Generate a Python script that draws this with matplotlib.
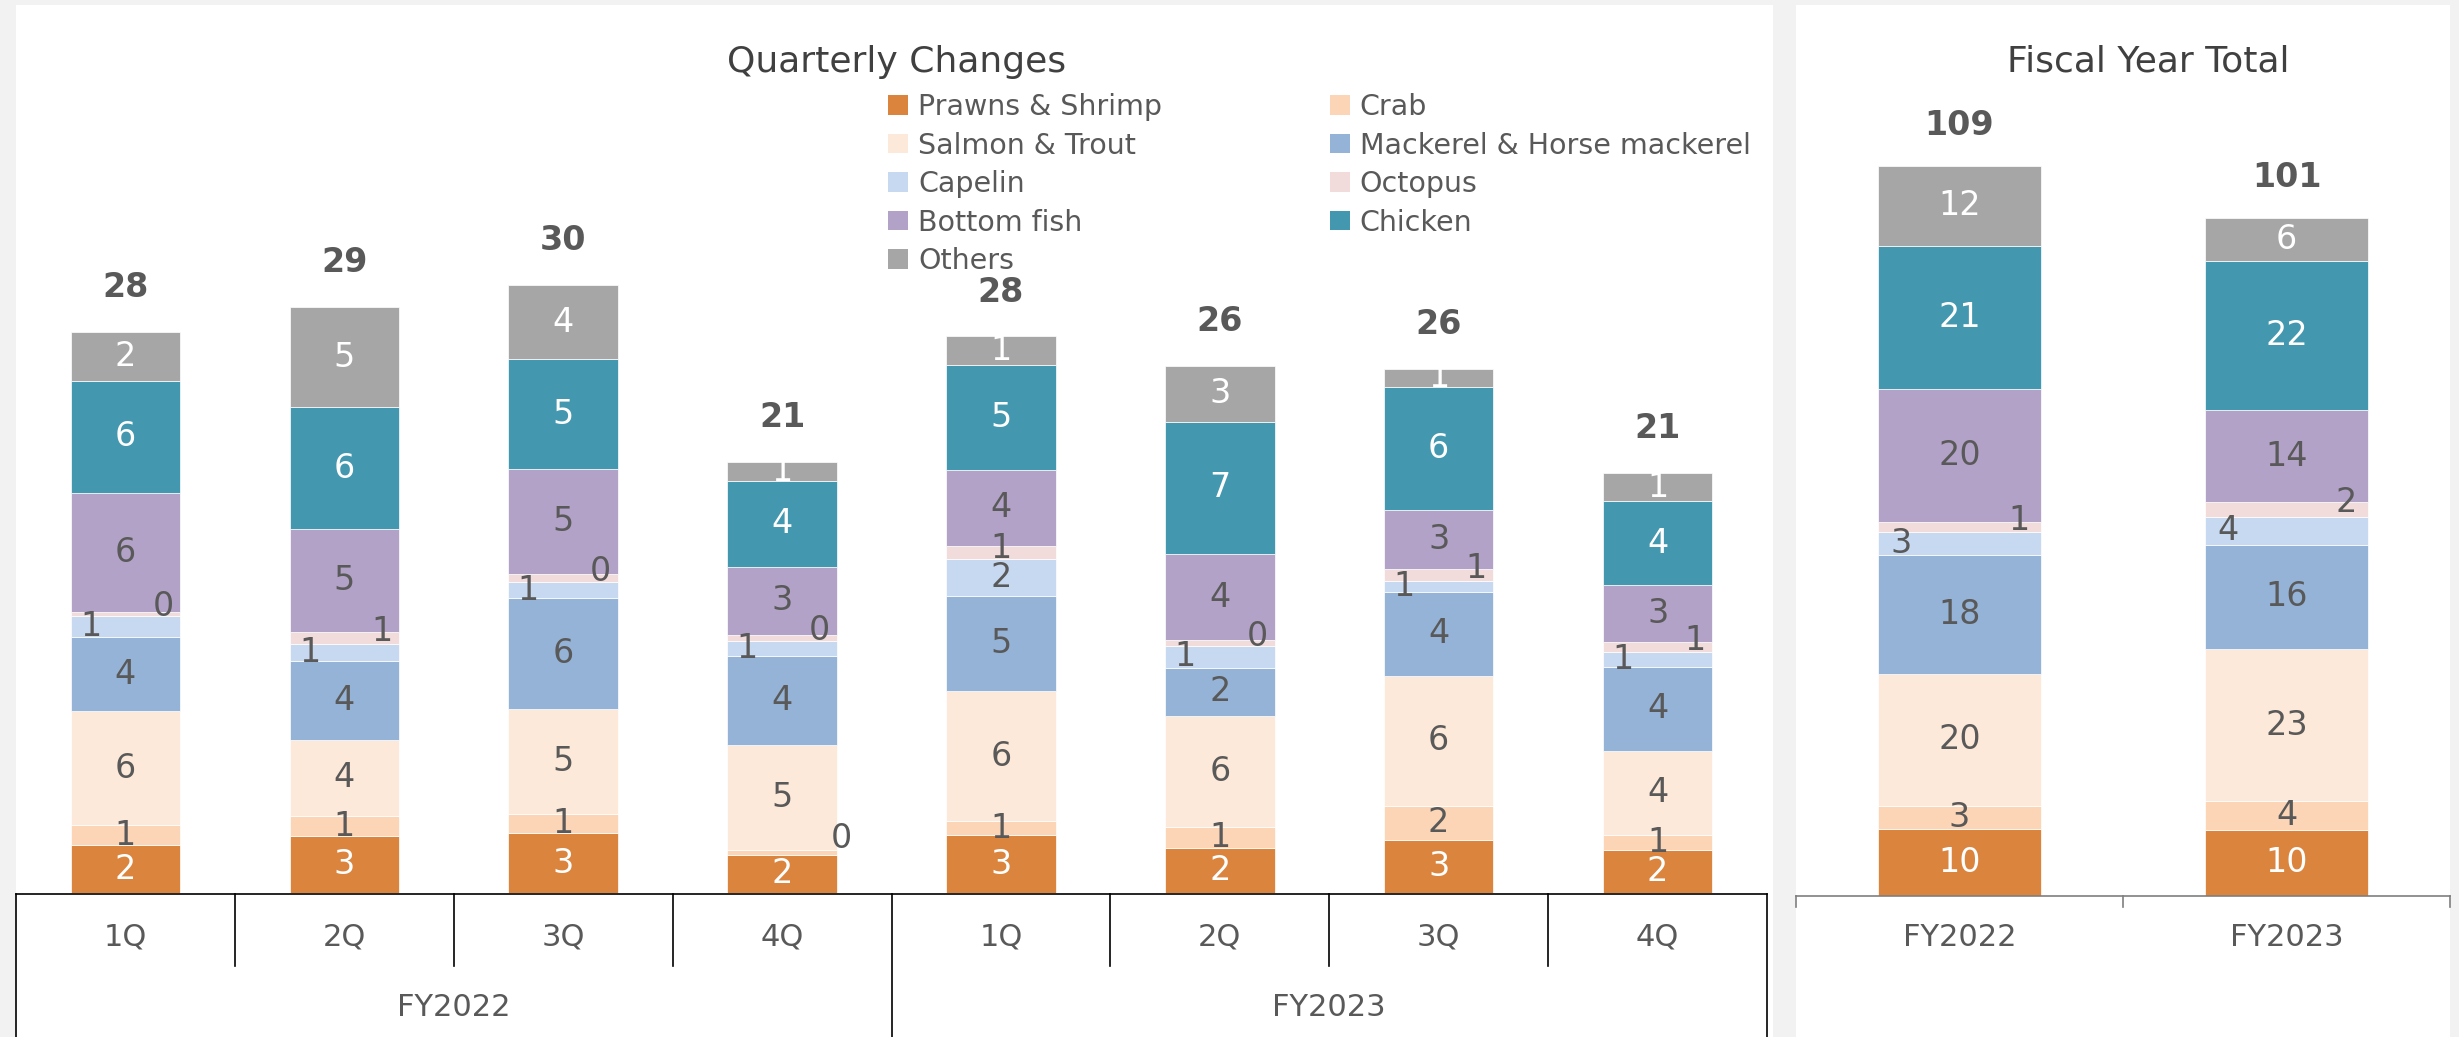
import matplotlib.pyplot as plt
from matplotlib.patches import Rectangle, Patch
from matplotlib.lines import Line2D
from matplotlib.transforms import blended_transform_factory

W, H, DPI = 2459, 1037, 100

# --- data ---
series = ["Prawns & Shrimp", "Crab", "Salmon & Trout", "Mackerel & Horse mackerel",
          "Capelin", "Octopus", "Bottom fish", "Chicken", "Others"]
colors = ["#DB843D", "#FBD5B5", "#FDE9D9", "#95B3D7", "#C6D9F1",
          "#F2DCDB", "#B3A2C7", "#4398AF", "#A6A6A6"]

quarters = ["1Q", "2Q", "3Q", "4Q", "1Q", "2Q", "3Q", "4Q"]
years = ["FY2022", "FY2023"]

# quarterly values, FY2022 1Q..4Q then FY2023 1Q..4Q
prawns = [2.39, 2.82, 2.99, 1.90, 2.89, 2.24, 2.65, 2.17]
crab = [0.98, 1.02, 0.96, 0.27, 0.70, 1.04, 1.71, 0.73]
salmon = [5.69, 3.80, 5.23, 5.23, 6.49, 5.55, 6.48, 4.21]
mackerel = [3.71, 3.93, 5.55, 4.43, 4.72, 2.41, 4.19, 4.17]
capelin = [1.06, 0.86, 0.77, 0.75, 1.86, 1.10, 0.53, 0.73]
octopus = [0.19, 0.58, 0.42, 0.31, 0.67, 0.26, 0.62, 0.51]
bottom_fish = [5.95, 5.14, 5.24, 3.38, 3.80, 4.31, 2.92, 2.85]
chicken = [5.59, 6.08, 5.47, 4.30, 5.22, 6.61, 6.17, 4.17]
others = [2.45, 5.00, 3.69, 0.92, 1.42, 2.78, 0.88, 1.41]

# fiscal year totals
fy_prawns = [10.06, 9.91]
fy_crab = [3.33, 4.24]
fy_salmon = [19.8, 22.7]
fy_mackerel = [17.7, 15.6]
fy_capelin = [3.43, 4.19]
fy_octopus = [1.48, 2.10]
fy_bottom_fish = [19.8, 13.8]
fy_chicken = [21.4, 22.3]
fy_others = [12.0, 6.4]

quarterly = [prawns, crab, salmon, mackerel, capelin, octopus, bottom_fish, chicken, others]
yearly = [fy_prawns, fy_crab, fy_salmon, fy_mackerel, fy_capelin, fy_octopus,
          fy_bottom_fish, fy_chicken, fy_others]

white_text = {0, 7, 8}
GREY = "#595959"


def fx(x):
    return x / W


def fy(y):
    return 1 - y / H


fig = plt.figure(figsize=(W / DPI, H / DPI), dpi=DPI, facecolor="#F2F2F2")

# white panels (behind the axes)
fig.patches.append(Rectangle((fx(16), 0), fx(1773) - fx(16), fy(5), transform=fig.transFigure,
                             facecolor="white", edgecolor="none", zorder=-5))
fig.patches.append(Rectangle((fx(1796), 0), fx(2450) - fx(1796), fy(5), transform=fig.transFigure,
                             facecolor="white", edgecolor="none", zorder=-5))


def stacked(ax, data, side_dx, oct_dx, tot_dy, left_rule):
    n = len(data[0])
    xs = list(range(n))
    bottom = [0.0] * n
    for s, vals in enumerate(data):
        ax.bar(xs, vals, 0.5, bottom=bottom, color=colors[s], edgecolor="white", linewidth=0.5)
        for i, v in enumerate(vals):
            cy = bottom[i] + v / 2
            dx, dy = 0, 0
            small = left_rule(data[4][i])
            if s == 4 and small:
                dx = side_dx
            elif s == 5 and small:
                dx, dy = oct_dx, 5
            elif s == 5:
                dy = 3
            elif s == 1 and v < 0.5:
                dx, dy = 43, 10
            ax.annotate(f"{v:.0f}", (i, cy), xytext=(dx, dy), textcoords="offset points",
                        ha="center", va="center", fontsize=24,
                        color="white" if s in white_text else GREY)
        bottom = [b + v for b, v in zip(bottom, vals)]
    for i, t in enumerate(bottom):
        ax.annotate(f"{t:.0f}", (i, t), xytext=(0, tot_dy), textcoords="offset points",
                    ha="center", va="center", fontsize=24, fontweight="bold", color=GREY)


# --- left: quarterly ---
ax1 = fig.add_axes([fx(16), fy(893), fx(1767) - fx(16), (893 - 5) / H])
ax1.set_xlim(-0.5, 7.5)
ax1.set_ylim(0, (893 - 5) / 20.04)
ax1.axis("off")
stacked(ax1, quarterly, -25, 27, 32, lambda c: c < 1.5)

b1 = blended_transform_factory(ax1.transData, fig.transFigure)
fig.add_artist(Line2D([-0.5, 7.5], [fy(894), fy(894)], transform=b1, color="black", lw=1.2))
for k in range(9):
    y_end = H if k % 4 == 0 else 966
    fig.add_artist(Line2D([k - 0.5, k - 0.5], [fy(894), fy(y_end)], transform=b1, color="black", lw=1.2))
for i, q in enumerate(quarters):
    fig.text(i, fy(937), q, transform=b1, ha="center", va="center", fontsize=22, color=GREY)
for j, yr in enumerate(years):
    fig.text(1.5 + 4 * j, fy(1007), yr, transform=b1, ha="center", va="center", fontsize=22, color=GREY)

# --- right: fiscal year ---
ax2 = fig.add_axes([fx(1796), fy(896), fx(2450) - fx(1796), (896 - 5) / H])
ax2.set_xlim(-0.5, 1.5)
ax2.set_ylim(0, (896 - 5) / 6.7)
ax2.axis("off")
stacked(ax2, yearly, -42, 43, 29, lambda c: True)

b2 = blended_transform_factory(ax2.transData, fig.transFigure)
fig.add_artist(Line2D([-0.5, 1.5], [fy(896), fy(896)], transform=b2, color="#7F7F7F", lw=1.2))
for k in range(3):
    fig.add_artist(Line2D([k - 0.5, k - 0.5], [fy(896), fy(907)], transform=b2, color="#7F7F7F", lw=1.2))
for j, yr in enumerate(years):
    fig.text(j, fy(938), yr, transform=b2, ha="center", va="center", fontsize=22, color=GREY)

# titles
fig.text(fx(897), fy(72), "Quarterly Changes", ha="center", va="baseline", fontsize=26, color="#404040")
fig.text(fx(2148), fy(72), "Fiscal Year Total", ha="center", va="baseline", fontsize=26, color="#404040")

# legend, Excel fills it row by row
handles = [Patch(facecolor=c, edgecolor="none", label=l) for c, l in zip(colors, series)]
handles = handles[0::2] + handles[1::2]
fig.legend(handles=handles, ncol=2, loc="upper left", bbox_to_anchor=(fx(888), fy(93)),
           frameon=False, fontsize=20.5, labelcolor=GREY, handlelength=0.7, handleheight=0.67,
           handletextpad=0.35, columnspacing=5.9, labelspacing=0.37, borderpad=0, borderaxespad=0)

fig.savefig("out.png", dpi=DPI, facecolor=fig.get_facecolor())
